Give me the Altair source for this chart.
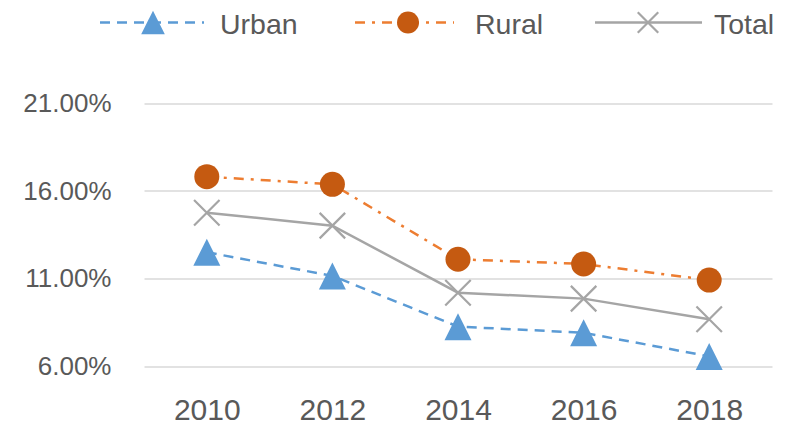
import altair as alt
import pandas as pd

# ---- data ----
years = ["2010", "2012", "2014", "2016", "2018"]
series_names = ["Urban", "Rural", "Total"]
urban = [0.1250, 0.1115, 0.0825, 0.0790, 0.0655]
rural = [0.1682, 0.1638, 0.1210, 0.1183, 0.1091]
total = [0.1476, 0.1402, 0.1019, 0.0985, 0.0867]
y_ticks = [0.06, 0.11, 0.16, 0.21]

rows = []
for name, vals in zip(series_names, [urban, rural, total]):
    for yr, v in zip(years, vals):
        rows.append({"year": yr, "series": name, "rate": v})
df = pd.DataFrame(rows)

TRI = "M0,-1L1,1L-1,1Z"
XSHAPE = "M-1,-1L1,1M-1,1L1,-1"
FONT = "Liberation Sans, Arial, sans-serif"
TXT = "#595959"

styles = {
    "Urban": dict(line="#5B9BD5", marker="#5B9BD5", dash=[10, 7], shape=TRI,
                  filled=True, size=729, lsize=560, lx0=-44, lx1=60, mx=9, tx=76),
    "Rural": dict(line="#ED7D31", marker="#C55A11", dash=[10, 7, 3, 7], shape="circle",
                  filled=True, size=625, lsize=484, lx0=211, lx1=310, mx=264, tx=331),
    "Total": dict(line="#A5A5A5", marker="#A5A5A5", dash=None, shape=XSHAPE,
                  filled=False, size=650, lsize=420, lx0=451, lx1=558, mx=504, tx=570),
}

x_enc = alt.X(
    "year:O", sort=years,
    scale=alt.Scale(type="point", padding=0.5),
    axis=alt.Axis(title=None, labelAngle=0, ticks=False, domain=False, grid=False,
                  labelFont=FONT, labelFontSize=30, labelColor=TXT,
                  labelPadding=29),
)
y_enc = alt.Y(
    "rate:Q",
    scale=alt.Scale(domain=[0.06, 0.21], nice=False, zero=False),
    axis=alt.Axis(title=None, values=y_ticks, format=".2%", ticks=False, domain=False,
                  gridColor="#D9D9D9", gridWidth=1.5, labelFont=FONT,
                  labelFontSize=26, labelColor=TXT, labelPadding=33),
)

layers = []
for name in series_names:
    s = styles[name]
    base = alt.Chart(df).transform_filter(f"datum.series == '{name}'")
    line_kw = dict(color=s["line"], strokeWidth=2.5)
    if s["dash"]:
        line_kw["strokeDash"] = s["dash"]
    layers.append(base.mark_line(**line_kw).encode(x=x_enc, y=y_enc))

for name in series_names:
    s = styles[name]
    base = alt.Chart(df).transform_filter(f"datum.series == '{name}'")
    if s["filled"]:
        pt = base.mark_point(shape=s["shape"], size=s["size"], filled=True,
                             color=s["marker"], opacity=1)
    else:
        pt = base.mark_point(shape=s["shape"], size=s["size"], filled=False,
                             color=s["marker"], strokeWidth=2.2, opacity=1)
    layers.append(pt.encode(x=x_enc, y=y_enc))

# ---- legend (drawn manually above the plot) ----
LEG_Y = -81
for name in series_names:
    s = styles[name]
    one = alt.Chart(df).transform_filter(
        f"datum.series == '{name}' && datum.year == '{years[0]}'")
    rule_kw = dict(color=s["line"], strokeWidth=2.5)
    if s["dash"]:
        rule_kw["strokeDash"] = s["dash"]
    layers.append(one.mark_rule(**rule_kw).encode(
        x=alt.value(s["lx0"]), x2=alt.value(s["lx1"]), y=alt.value(LEG_Y)))
    if s["filled"]:
        lp = one.mark_point(shape=s["shape"], size=s["lsize"], filled=True,
                            color=s["marker"], opacity=1)
    else:
        lp = one.mark_point(shape=s["shape"], size=s["lsize"], filled=False,
                            color=s["marker"], strokeWidth=2.2, opacity=1)
    layers.append(lp.encode(x=alt.value(s["mx"]), y=alt.value(LEG_Y)))
    layers.append(one.mark_text(align="left", baseline="alphabetic", font=FONT,
                                fontSize=28.5, color=TXT).encode(
        x=alt.value(s["tx"]), y=alt.value(-69.5), text="series:N"))

chart = alt.layer(*layers).properties(
    width=628, height=262.5,
    autosize=alt.AutoSizeParams(type="none"),
    padding={"left": 136, "top": 95.5, "right": 7, "bottom": 60},
    background="white",
).configure_view(stroke=None)

chart.save("out.html", embed_options={"renderer": "svg", "actions": False})
